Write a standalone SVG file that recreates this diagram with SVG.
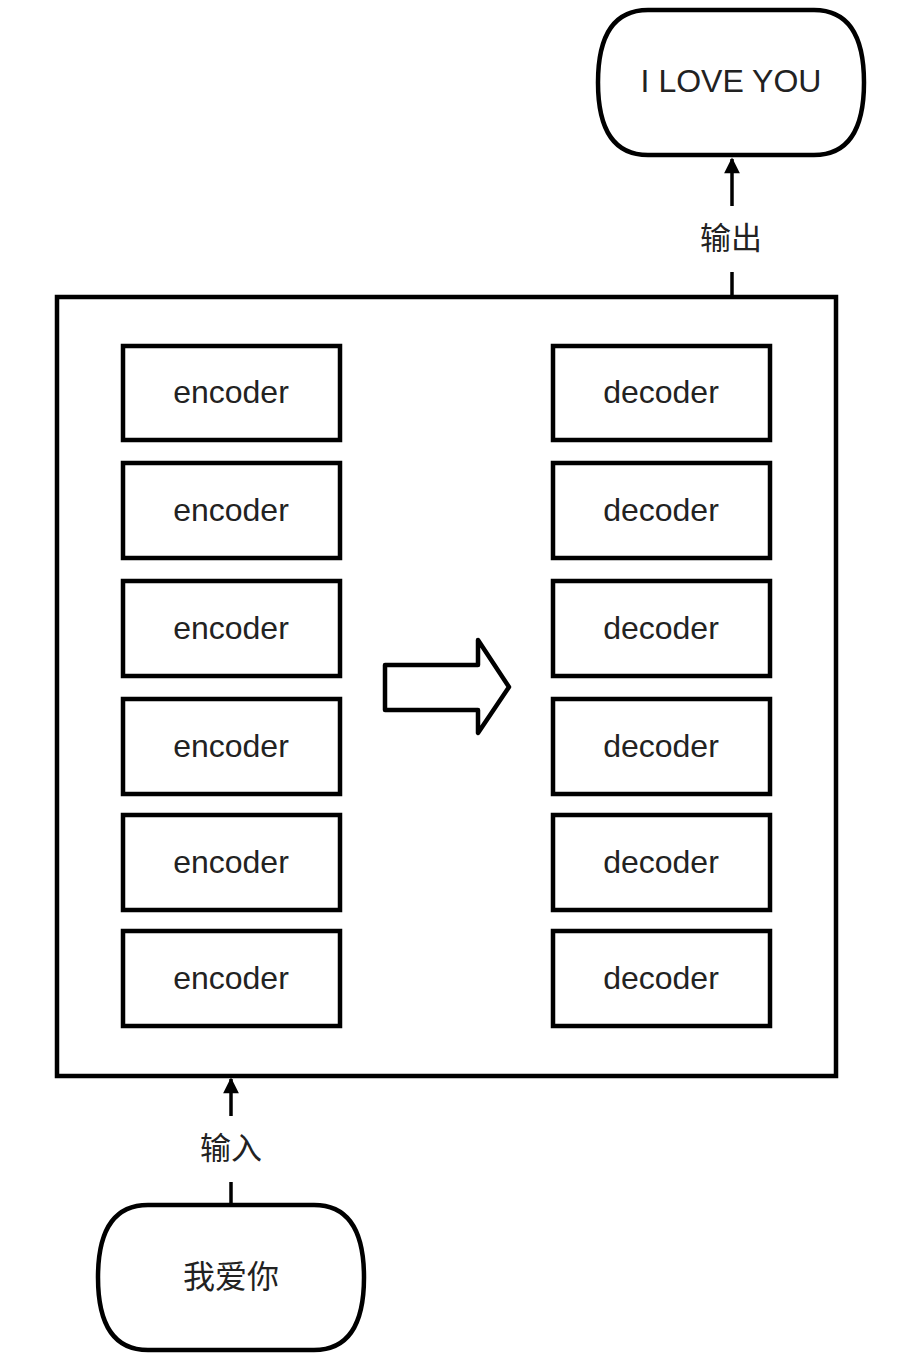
<svg xmlns="http://www.w3.org/2000/svg" width="900" height="1362" viewBox="0 0 900 1362">
<style>
.box{fill:#fff;stroke:#000;stroke-width:4.5}
.t{font-family:"Liberation Sans","Noto Sans CJK SC",sans-serif;font-size:32px;fill:#222;text-anchor:middle;dominant-baseline:central}
.lbl{font-family:"Liberation Sans","Noto Sans CJK SC",sans-serif;font-size:31px;fill:#222;text-anchor:middle;dominant-baseline:central}
.ln{stroke:#000;stroke-width:3.5;fill:none}
</style>
<defs>
<marker id="ah" viewBox="0 0 10 10" refX="9" refY="5" markerWidth="6" markerHeight="4.5" markerUnits="strokeWidth" orient="auto">
<path d="M0,0 L10,5 L0,10 z" fill="#000"/>
</marker>
</defs>
<rect width="900" height="1362" fill="#fff"/>
<g id="container"><rect class="box" x="57" y="297" width="779" height="779"/></g>
<g id="output"><path class="box" d="M648,10 H814 Q864,10 864,82.5 Q864,155 814,155 H648 Q598,155 598,82.5 Q598,10 648,10 Z"/><text class="t" x="731" y="81">I LOVE YOU</text></g>
<g id="input"><path class="box" d="M148,1205 H314 Q364,1205 364,1277.5 Q364,1350 314,1350 H148 Q98,1350 98,1277.5 Q98,1205 148,1205 Z"/><text class="t" x="231" y="1277">我爱你</text></g>
<g id="enc1"><rect class="box" x="123" y="346" width="217" height="94"/><text class="t" x="231" y="392">encoder</text></g>
<g id="enc2"><rect class="box" x="123" y="463" width="217" height="95"/><text class="t" x="231" y="510">encoder</text></g>
<g id="enc3"><rect class="box" x="123" y="581" width="217" height="95"/><text class="t" x="231" y="628">encoder</text></g>
<g id="enc4"><rect class="box" x="123" y="699" width="217" height="95"/><text class="t" x="231" y="746">encoder</text></g>
<g id="enc5"><rect class="box" x="123" y="815" width="217" height="95"/><text class="t" x="231" y="862">encoder</text></g>
<g id="enc6"><rect class="box" x="123" y="931" width="217" height="95"/><text class="t" x="231" y="978">encoder</text></g>
<g id="dec1"><rect class="box" x="553" y="346" width="217" height="94"/><text class="t" x="661" y="392">decoder</text></g>
<g id="dec2"><rect class="box" x="553" y="463" width="217" height="95"/><text class="t" x="661" y="510">decoder</text></g>
<g id="dec3"><rect class="box" x="553" y="581" width="217" height="95"/><text class="t" x="661" y="628">decoder</text></g>
<g id="dec4"><rect class="box" x="553" y="699" width="217" height="95"/><text class="t" x="661" y="746">decoder</text></g>
<g id="dec5"><rect class="box" x="553" y="815" width="217" height="95"/><text class="t" x="661" y="862">decoder</text></g>
<g id="dec6"><rect class="box" x="553" y="931" width="217" height="95"/><text class="t" x="661" y="978">decoder</text></g>
<g id="blockarrow"><path class="box" stroke-linejoin="round" d="M385,665 H478 V640 L509,687 L478,733 V710 H385 Z"/></g>
<g id="connectors">
<line class="ln" x1="732" y1="297" x2="732" y2="272"/>
<line class="ln" x1="732" y1="206" x2="732" y2="159" marker-end="url(#ah)"/>
<text class="lbl" x="731" y="238">输出</text>
<line class="ln" x1="231" y1="1205" x2="231" y2="1182"/>
<line class="ln" x1="231" y1="1116" x2="231" y2="1079" marker-end="url(#ah)"/>
<text class="lbl" x="231" y="1148">输入</text>
</g>
</svg>
